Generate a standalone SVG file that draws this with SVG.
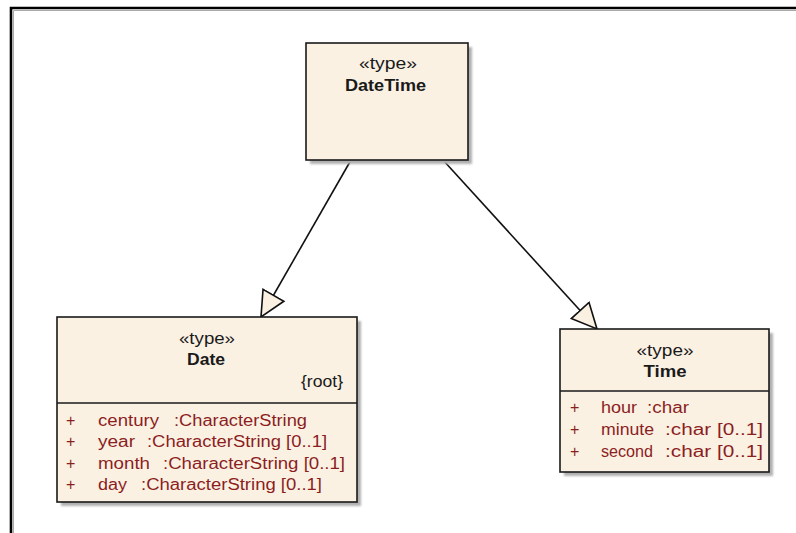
<svg xmlns="http://www.w3.org/2000/svg" width="796" height="533" viewBox="0 0 796 533">
<style>
.box{fill:#FBF1E3;stroke:#1a1a1a;stroke-width:1.6}
.shadow{fill:#b0b0b0}
.div{stroke:#1a1a1a;stroke-width:1.4}
.st{font-family:"Liberation Sans",Arial,sans-serif;font-size:16px;fill:#1a1a1a}
.nm{font-family:"Liberation Sans",Arial,sans-serif;font-size:16px;font-weight:bold;fill:#1a1a1a}
.at{font-family:"Liberation Sans",Arial,sans-serif;font-size:16px;fill:#8B1E1E}
.edge{stroke:#111;stroke-width:1.6;fill:none}
</style>
<defs>
<filter id="blur" x="-10%" y="-10%" width="130%" height="130%"><feGaussianBlur stdDeviation="1.2"/></filter>
<marker id="gen" markerUnits="userSpaceOnUse" markerWidth="28" markerHeight="28" refX="25" refY="12" orient="auto" viewBox="-1 -1 28 26">
<path d="M0,0 L25,12 L0,24 Z" fill="#FBF1E3" stroke="#111" stroke-width="1.6" stroke-linejoin="miter"/>
</marker>
</defs>
<rect width="796" height="533" fill="#fff"/>
<path d="M11,533 V8 H796" fill="none" stroke="#000" stroke-width="2.6"/>
<path d="M13.5,533 V10.5 H796" fill="none" stroke="#aaa" stroke-width="1"/>

<g id="connectors">
<line class="edge" x1="351" y1="160" x2="261" y2="317" marker-end="url(#gen)"/>
<line class="edge" x1="443" y1="160" x2="597" y2="329" marker-end="url(#gen)"/>
</g>

<g id="DateTime">
<rect class="shadow" x="310" y="47" width="162" height="117" filter="url(#blur)"/>
<rect class="box" x="306" y="43" width="162" height="117"/>
<text class="st" x="388" y="69" text-anchor="middle" textLength="58" lengthAdjust="spacingAndGlyphs">«type»</text>
<text class="nm" x="385.5" y="91" text-anchor="middle" textLength="81" lengthAdjust="spacingAndGlyphs">DateTime</text>
</g>

<g id="Date">
<rect class="shadow" x="61" y="321" width="300" height="185" filter="url(#blur)"/>
<rect class="box" x="57" y="317" width="300" height="185"/>
<line class="div" x1="57" y1="403" x2="357" y2="403"/>
<text class="st" x="207" y="344" text-anchor="middle" textLength="56" lengthAdjust="spacingAndGlyphs">«type»</text>
<text class="nm" x="206" y="365" text-anchor="middle" textLength="38" lengthAdjust="spacingAndGlyphs">Date</text>
<text class="st" x="301" y="387" textLength="42" lengthAdjust="spacingAndGlyphs">{root}</text>
<text class="at" x="66" y="426">+</text>
<text class="at" x="98" y="426" textLength="61" lengthAdjust="spacingAndGlyphs">century</text>
<text class="at" x="174" y="426" textLength="133" lengthAdjust="spacingAndGlyphs">:CharacterString</text>
<text class="at" x="66" y="447">+</text>
<text class="at" x="98" y="447" textLength="37" lengthAdjust="spacingAndGlyphs">year</text>
<text class="at" x="147" y="447" textLength="180" lengthAdjust="spacingAndGlyphs">:CharacterString [0..1]</text>
<text class="at" x="66" y="469">+</text>
<text class="at" x="98" y="469" textLength="52" lengthAdjust="spacingAndGlyphs">month</text>
<text class="at" x="163" y="469" textLength="182" lengthAdjust="spacingAndGlyphs">:CharacterString [0..1]</text>
<text class="at" x="66" y="490">+</text>
<text class="at" x="98" y="490" textLength="29" lengthAdjust="spacingAndGlyphs">day</text>
<text class="at" x="141" y="490" textLength="181" lengthAdjust="spacingAndGlyphs">:CharacterString [0..1]</text>
</g>

<g id="Time">
<rect class="shadow" x="564" y="333" width="209" height="143" filter="url(#blur)"/>
<rect class="box" x="560" y="329" width="209" height="143"/>
<line class="div" x1="560" y1="391" x2="769" y2="391"/>
<text class="st" x="665" y="356" text-anchor="middle" textLength="57" lengthAdjust="spacingAndGlyphs">«type»</text>
<text class="nm" x="665" y="377" text-anchor="middle" textLength="43" lengthAdjust="spacingAndGlyphs">Time</text>
<text class="at" x="570" y="413">+</text>
<text class="at" x="601" y="413" textLength="36" lengthAdjust="spacingAndGlyphs">hour</text>
<text class="at" x="647" y="413" textLength="42" lengthAdjust="spacingAndGlyphs">:char</text>
<text class="at" x="570" y="435">+</text>
<text class="at" x="601" y="435" textLength="53" lengthAdjust="spacingAndGlyphs">minute</text>
<text class="at" x="665" y="435" textLength="98" lengthAdjust="spacingAndGlyphs">:char [0..1]</text>
<text class="at" x="570" y="457">+</text>
<text class="at" x="601" y="457" textLength="52" lengthAdjust="spacingAndGlyphs">second</text>
<text class="at" x="665" y="457" textLength="98" lengthAdjust="spacingAndGlyphs">:char [0..1]</text>
</g>
</svg>
